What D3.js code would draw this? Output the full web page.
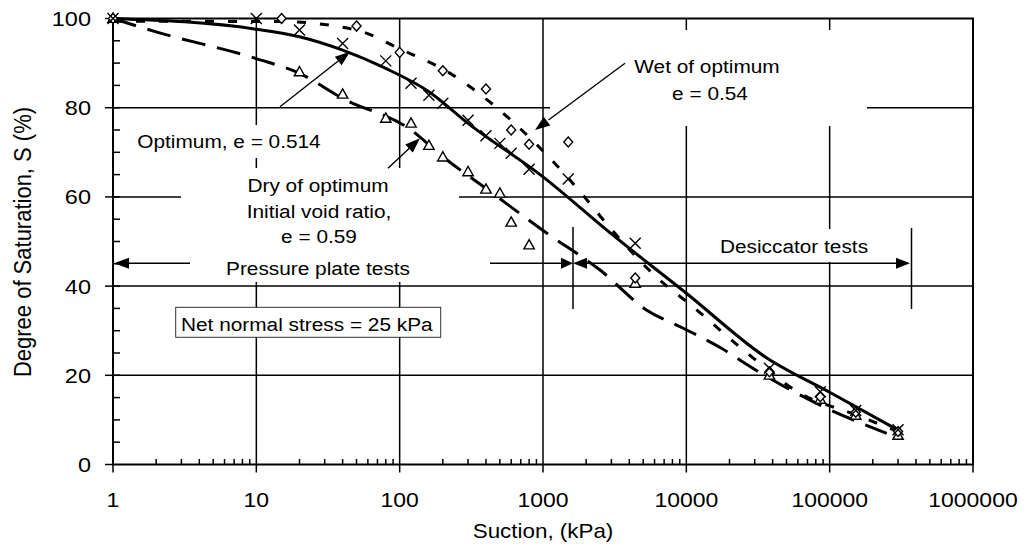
<!DOCTYPE html>
<html>
<head>
<meta charset="utf-8">
<script src="https://cdn.jsdelivr.net/npm/d3@7"></script>
<style>
  body { margin: 0; background: #fff; }
  text { font-family: Arial, "Liberation Sans", sans-serif; fill: #000; }
</style>
</head>
<body>
<svg id="chart" width="1028" height="551"></svg>
<script>
// measured points, [suction (kPa), degree of saturation (%)]
var wetPts = [[1,100],[15,100],[50,98.3],[100,92.4],[200,88.3],[400,84.2],[600,75],[800,71.8],
  [1500,72.3],[4400,41.8],[38000,20.8],[86000,15.2],[152000,11.7],[300000,7.4]];
var optPts = [[1,100],[10,100],[20,97.4],[40,94.4],[80,90.5],[120,85.5],[160,82.8],[200,81],
  [300,77.2],[400,73.7],[500,72],[600,69.8],[800,66.2],[1500,64],[4400,49.6],[38000,21.6],
  [86000,16.3],[152000,12.1],[300000,7.8]];
var dryPts = [[1,100],[20,88],[40,83],[80,77.6],[120,76.5],[160,71.5],[200,68.9],[300,65.6],
  [400,61.7],[500,60.8],[600,54.3],[800,49.2],[4400,40.6],[38000,20],[86000,14.6],
  [152000,11],[300000,6.5]];

// fitted curves
var wetFit = [[1,99.4],[15,99.3],[50,97.4],[100,93.2],[225,87.7],[425,81.3],[710,75],[1180,67.9],
  [1810,61.2],[2950,53],[6200,42],[11100,35.4],[26500,25],[62000,16],[150000,11.2],[300000,7.4]];
var optFit = [[1,100],[10,97.6],[20,95.9],[40,92.9],[80,88.8],[160,83.6],[300,76.5],[1000,64.5],
  [3000,51.7],[10000,38.4],[36000,24],[100000,16.2],[300000,7.7]];
var dryFit = [[1,100],[2,97],[10,91],[20,87.7],[40,82.1],[120,75],[200,69],[400,61.9],[1070,51.8],
  [2500,43.6],[5300,34.6],[9600,30.5],[17700,26],[28000,21.9],[81000,13.7],[250000,7]];

var xTicks = [1,10,100,1000,10000,100000,1000000];
var yTicks = [0,20,40,60,80,100];

var svg = d3.select("#chart");
var x = d3.scaleLog().domain([1,1e6]).range([113,973]);
var y = d3.scaleLinear().domain([0,100]).range([464.5,18.5]);
var SX = 1.12; // text in the picture is a little wide

function label(g, px, py, str, size, anchor) {
  return g.append("text")
    .attr("transform", "translate(" + px + "," + py + ") scale(" + SX + ",1)")
    .attr("text-anchor", anchor || "middle")
    .style("font-size", size + "px")
    .text(str);
}

function head(g, tx, ty, fx, fy, len, half) {
  var a = Math.atan2(ty - fy, tx - fx);
  var bx = tx - len * Math.cos(a), by = ty - len * Math.sin(a);
  var px = -Math.sin(a) * half, py = Math.cos(a) * half;
  g.append("path")
    .attr("d", "M" + tx + "," + ty + "L" + (bx + px) + "," + (by + py) + "L" + (bx - px) + "," + (by - py) + "Z")
    .attr("fill", "#000");
}

// grid
var grid = svg.append("g").attr("stroke", "#000").attr("stroke-width", 1.5);
grid.selectAll("line.h").data(yTicks.slice(1, 5)).enter().append("line")
  .attr("x1", 113).attr("x2", 973)
  .attr("y1", function(d) { return y(d); }).attr("y2", function(d) { return y(d); });
grid.selectAll("line.v").data(xTicks.slice(1, 6)).enter().append("line")
  .attr("y1", y(0)).attr("y2", y(100))
  .attr("x1", function(d) { return x(d); }).attr("x2", function(d) { return x(d); });

// ticks
var minor = [];
xTicks.slice(0, 6).forEach(function(d) { for (var k = 2; k < 10; k++) minor.push(d * k); });
var ax = svg.append("g").attr("stroke", "#000").attr("stroke-width", 1.5);
ax.selectAll("line.xm").data(minor).enter().append("line")
  .attr("x1", function(d) { return x(d); }).attr("x2", function(d) { return x(d); })
  .attr("y1", y(0)).attr("y2", y(0) - 5.5);
ax.selectAll("line.xM").data(xTicks).enter().append("line")
  .attr("x1", function(d) { return x(d); }).attr("x2", function(d) { return x(d); })
  .attr("y1", y(0)).attr("y2", y(0) + 8);
ax.selectAll("line.ym").data(d3.range(5, 100, 5)).enter().append("line")
  .attr("x1", 113).attr("x2", 120)
  .attr("y1", function(d) { return y(d); }).attr("y2", function(d) { return y(d); });
ax.selectAll("line.yM").data(yTicks).enter().append("line")
  .attr("x1", 105).attr("x2", 113)
  .attr("y1", function(d) { return y(d); }).attr("y2", function(d) { return y(d); });

// test range arrows
var rng = svg.append("g");
var ry = 263.3;
rng.append("line").attr("x1", 125).attr("x2", 562).attr("y1", ry).attr("y2", ry)
  .attr("stroke", "#000").attr("stroke-width", 1.5);
rng.append("line").attr("x1", 585).attr("x2", 899).attr("y1", ry).attr("y2", ry)
  .attr("stroke", "#000").attr("stroke-width", 1.5);
head(rng, 114, ry, 140, ry, 15, 5.5);
head(rng, 573, ry, 540, ry, 12, 5.5);
head(rng, 573, ry, 600, ry, 14, 5.5);
head(rng, 910, ry, 880, ry, 14, 5.5);
rng.append("line").attr("x1", 573).attr("x2", 573).attr("y1", 227).attr("y2", 309)
  .attr("stroke", "#000").attr("stroke-width", 1.5);
rng.append("line").attr("x1", 911.5).attr("x2", 911.5).attr("y1", 228).attr("y2", 309)
  .attr("stroke", "#000").attr("stroke-width", 1.5);

// white label backgrounds
var boxes = [[130,125,200,33],[181,168,278,82],[190,250,300,32],[550,30,317,96],[715,229,157,33]];
svg.append("g").selectAll("rect").data(boxes).enter().append("rect")
  .attr("x", function(d) { return d[0]; }).attr("y", function(d) { return d[1]; })
  .attr("width", function(d) { return d[2]; }).attr("height", function(d) { return d[3]; })
  .attr("fill", "#fff");
svg.append("rect").attr("x", 175.7).attr("y", 307.3).attr("width", 265).attr("height", 30)
  .attr("fill", "#fff").attr("stroke", "#333").attr("stroke-width", 1);

// frame
svg.append("rect").attr("x", 113).attr("y", 18.5).attr("width", 860).attr("height", 446)
  .attr("fill", "none").attr("stroke", "#000").attr("stroke-width", 2);

// fitted curves
var line = d3.line()
  .x(function(d) { return x(d[0]); })
  .y(function(d) { return y(d[1]); })
  .curve(d3.curveMonotoneX);
var curves = svg.append("g").attr("fill", "none").attr("stroke", "#000").attr("stroke-width", 3);
curves.append("path").attr("d", line(dryFit)).attr("stroke-dasharray", "24,12");
curves.append("path").attr("d", line(wetFit)).attr("stroke-dasharray", "9,14");
curves.append("path").attr("d", line(optFit));

// markers
var mk = svg.append("g").attr("stroke", "#000").attr("stroke-width", 1.4);
mk.selectAll("path.tri").data(dryPts).enter().append("path")
  .attr("d", "M0,-5.5L5.2,3.8L-5.2,3.8Z").attr("fill", "#fff")
  .attr("transform", function(d) { return "translate(" + x(d[0]) + "," + y(d[1]) + ")"; });
mk.selectAll("path.dia").data(wetPts).enter().append("path")
  .attr("d", "M0,-5L4.5,0L0,5L-4.5,0Z").attr("fill", "#fff")
  .attr("transform", function(d) { return "translate(" + x(d[0]) + "," + y(d[1]) + ")"; });
mk.selectAll("path.crs").data(optPts).enter().append("path")
  .attr("d", "M-5.5,-5.5L5.5,5.5M-5.5,5.5L5.5,-5.5").attr("fill", "none")
  .attr("transform", function(d) { return "translate(" + x(d[0]) + "," + y(d[1]) + ")"; });

// annotation arrows
var ann = svg.append("g");
[[280,106.7,350,51.7],[388,168.3,420,138.3],[625,63.3,535,130]].forEach(function(a) {
  ann.append("line").attr("x1", a[0]).attr("y1", a[1]).attr("x2", a[0] + (a[2] - a[0]) * 0.85)
    .attr("y2", a[1] + (a[3] - a[1]) * 0.85).attr("stroke", "#000").attr("stroke-width", 1.4);
  head(ann, a[2], a[3], a[0], a[1], 15, 5.5);
});

// texts
var tx = svg.append("g");
var fs = 18.6;
label(tx, 229, 148.3, "Optimum, e = 0.514", fs);
label(tx, 318, 191.7, "Dry of optimum", fs);
label(tx, 319, 218.3, "Initial void ratio,", fs);
label(tx, 319, 243.3, "e = 0.59", fs);
label(tx, 318, 275, "Pressure plate tests", fs);
label(tx, 707, 73.3, "Wet of optimum", fs);
label(tx, 710, 100, "e = 0.54", fs);
label(tx, 794, 253.3, "Desiccator tests", fs);
label(tx, 181, 330.7, "Net normal stress = 25 kPa", fs, "start");

// tick labels
xTicks.forEach(function(d) { label(tx, x(d), 507, String(d), 20.5); });
yTicks.forEach(function(d) { label(tx, 91, y(d) + 7.5, String(d), 21, "end"); });

// axis titles
label(tx, 543, 538, "Suction, (kPa)", 20);
tx.append("text")
  .attr("transform", "translate(31,242) scale(" + SX + ",1) rotate(-90)")
  .attr("text-anchor", "middle").style("font-size", "22px")
  .text("Degree of Saturation, S (%)");
</script>
</body>
</html>
